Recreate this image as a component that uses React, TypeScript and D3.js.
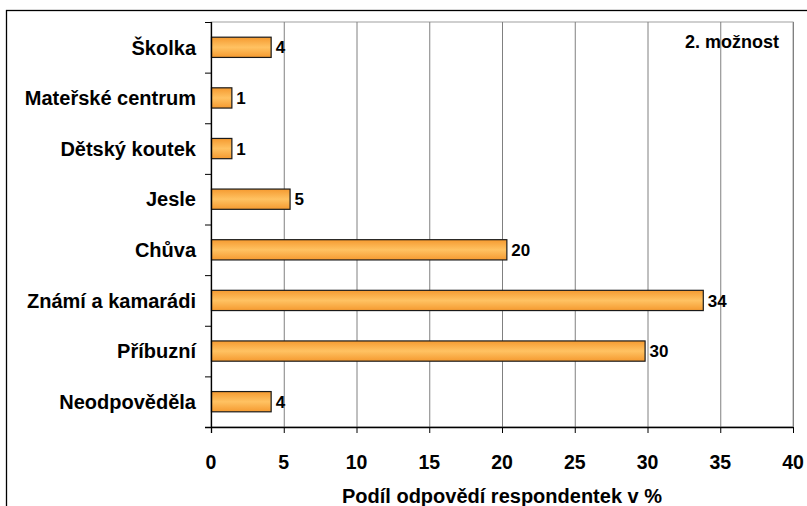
import React, { useEffect, useRef } from 'react'
import * as d3 from 'd3'

const categories = ['Školka', 'Mateřské centrum', 'Dětský koutek', 'Jesle', 'Chůva', 'Známí a kamarádi', 'Příbuzní', 'Neodpověděla']
const values = [4.1, 1.4, 1.4, 5.4, 20.3, 33.8, 29.8, 4.1]
const xTicks = [0, 5, 10, 15, 20, 25, 30, 35, 40]
const axisTitle = 'Podíl odpovědí respondentek v %'
const note = '2. možnost'

const W = 807
const H = 506

const App = () => {
  const ref = useRef<SVGSVGElement>(null)

  useEffect(() => {
    const svg = d3.select(ref.current)
    svg.selectAll('*').remove()

    const margin = { top: 22, right: 14, bottom: 79, left: 211 }
    const innerW = W - margin.left - margin.right
    const innerH = H - margin.top - margin.bottom
    const font = "'Liberation Sans', Arial, sans-serif"

    // outer frame
    svg.append('rect')
      .attr('x', 6.5).attr('y', 10.5)
      .attr('width', 820).attr('height', 520)
      .attr('fill', '#fff').attr('stroke', '#000').attr('stroke-width', 1.3)

    const defs = svg.append('defs')
    const grad = defs.append('linearGradient')
      .attr('id', 'barGrad').attr('x1', 0).attr('y1', 0).attr('x2', 0).attr('y2', 1)
    grad.append('stop').attr('offset', '0%').attr('stop-color', '#f59a30')
    grad.append('stop').attr('offset', '50%').attr('stop-color', '#ffc262')
    grad.append('stop').attr('offset', '100%').attr('stop-color', '#f59a30')

    const g = svg.append('g').attr('transform', `translate(${margin.left},${margin.top})`)

    const x = d3.scaleLinear().domain([0, 40]).range([0, innerW])
    const y = d3.scaleBand().domain(categories).range([0, innerH]).paddingInner(0.6).paddingOuter(0.3)

    // plot area border (gray)
    g.append('rect')
      .attr('x', 0).attr('y', 0).attr('width', innerW).attr('height', innerH)
      .attr('fill', 'none').attr('stroke', '#a0a0a0').attr('stroke-width', 1)

    // vertical gridlines
    g.selectAll('.grid')
      .data(xTicks.slice(1))
      .enter().append('line')
      .attr('x1', d => x(d) + 0.5).attr('x2', d => x(d) + 0.5)
      .attr('y1', 0).attr('y2', innerH)
      .attr('stroke', '#808080').attr('stroke-width', 1)

    // bars
    g.selectAll('.bar')
      .data(values)
      .enter().append('rect')
      .attr('x', 0.5)
      .attr('y', (d, i) => y(categories[i]))
      .attr('width', d => x(d))
      .attr('height', y.bandwidth())
      .attr('fill', 'url(#barGrad)')
      .attr('stroke', '#1a1a1a').attr('stroke-width', 1.2)

    // value labels
    g.selectAll('.lbl')
      .data(values)
      .enter().append('text')
      .attr('x', d => x(d) + 5)
      .attr('y', (d, i) => y(categories[i]) + y.bandwidth() / 2)
      .attr('dy', '0.36em')
      .attr('font-family', font).attr('font-weight', 'bold').attr('font-size', 17)
      .attr('fill', '#000')
      .text(d => d3.format('.0f')(d))

    // category axis
    const step = innerH / categories.length
    const bounds = d3.range(categories.length).map(i => i * step)
    g.append('line')
      .attr('x1', 0.5).attr('x2', 0.5).attr('y1', 0).attr('y2', innerH + 6)
      .attr('stroke', '#000').attr('stroke-width', 1.3)
    g.selectAll('.ytick')
      .data(bounds)
      .enter().append('line')
      .attr('x1', -6).attr('x2', 0).attr('y1', d => d + 0.5).attr('y2', d => d + 0.5)
      .attr('stroke', '#000')
    g.selectAll('.ylab')
      .data(categories)
      .enter().append('text')
      .attr('x', -15)
      .attr('y', d => y(d) + y.bandwidth() / 2)
      .attr('dy', '0.36em')
      .attr('text-anchor', 'end')
      .attr('font-family', font).attr('font-weight', 'bold').attr('font-size', 20)
      .text(d => d)

    // value axis
    g.append('line')
      .attr('x1', -6).attr('x2', innerW).attr('y1', innerH + 0.5).attr('y2', innerH + 0.5)
      .attr('stroke', '#000').attr('stroke-width', 1.3)
    g.selectAll('.xtick')
      .data(xTicks)
      .enter().append('line')
      .attr('x1', d => x(d) + 0.5).attr('x2', d => x(d) + 0.5)
      .attr('y1', innerH).attr('y2', innerH + 6)
      .attr('stroke', '#000')
    g.selectAll('.xlab')
      .data(xTicks)
      .enter().append('text')
      .attr('x', d => x(d))
      .attr('y', innerH + 42)
      .attr('text-anchor', 'middle')
      .attr('font-family', font).attr('font-weight', 'bold').attr('font-size', 19.5)
      .text(d => d)

    g.append('text')
      .attr('x', innerW / 2)
      .attr('y', innerH + 76)
      .attr('text-anchor', 'middle')
      .attr('font-family', font).attr('font-weight', 'bold').attr('font-size', 20)
      .text(axisTitle)

    g.append('text')
      .attr('x', innerW - 14)
      .attr('y', 26)
      .attr('text-anchor', 'end')
      .attr('font-family', font).attr('font-weight', 'bold').attr('font-size', 18)
      .text(note)
  }, [])

  return (
    <div style={{ position: 'absolute', left: 0, top: 0 }}>
      <svg ref={ref} width={W} height={H} style={{ display: 'block' }} />
    </div>
  )
}

export default App
